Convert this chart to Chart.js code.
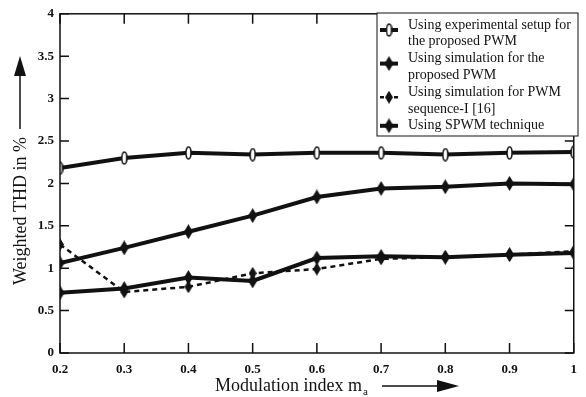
<!DOCTYPE html>
<html lang="en">
<head>
<meta charset="UTF-8">
<title>Weighted THD</title>
<script src="https://cdn.jsdelivr.net/npm/chart.js"></script>
<style>
  html, body { margin: 0; padding: 0; background: #fff; }
  #wrap { width: 586px; height: 397px; }
</style>
</head>
<body>
<div id="wrap"><canvas id="thdChart" width="586" height="397"></canvas></div>
<script>
// data
var modIndex = [0.2, 0.3, 0.4, 0.5, 0.6, 0.7, 0.8, 0.9, 1.0];
var expProposed = [2.18, 2.30, 2.36, 2.34, 2.36, 2.36, 2.34, 2.36, 2.37];
var simProposed = [1.06, 1.24, 1.43, 1.62, 1.84, 1.94, 1.96, 2.00, 1.99];
var simSeqI = [1.28, 0.72, 0.78, 0.94, 0.99, 1.11, 1.13, 1.16, 1.20];
var spwm = [0.71, 0.76, 0.89, 0.85, 1.12, 1.14, 1.13, 1.16, 1.18];
var seriesNames = [
    ['Using experimental setup for', 'the proposed PWM'],
    ['Using simulation for the', 'proposed PWM'],
    ['Using simulation for PWM', 'sequence-I [16]'],
    ['Using SPWM technique']
];
var yTicks = [0, 0.5, 1, 1.5, 2, 2.5, 3, 3.5, 4];

var serif = "'Liberation Serif', 'DejaVu Serif', serif";

// marker images
function diamond(w, h) {
    var c = document.createElement('canvas');
    c.width = w; c.height = h;
    var g = c.getContext('2d');
    g.fillStyle = '#111';
    g.beginPath();
    g.moveTo(w / 2, 0); g.lineTo(w, h / 2); g.lineTo(w / 2, h); g.lineTo(0, h / 2);
    g.closePath(); g.fill();
    return c;
}
function ring(w, h) {
    var c = document.createElement('canvas');
    c.width = w; c.height = h;
    var g = c.getContext('2d');
    g.fillStyle = '#fff';
    g.strokeStyle = '#111';
    g.lineWidth = 1.5;
    g.beginPath();
    g.ellipse(w / 2, h / 2, w / 2 - 1, h / 2 - 1, 0, 0, Math.PI * 2);
    g.fill(); g.stroke();
    return c;
}
var ringImg = ring(7, 14);
var diaImg = diamond(9, 15);
var diaSmall = diamond(8, 13);

function pts(arr) {
    return arr.map(function (v, i) { return { x: modIndex[i], y: v }; });
}

var styles = [
    { img: ringImg, dash: [], width: 4 },
    { img: diaImg, dash: [], width: 4 },
    { img: diaSmall, dash: [5, 4], width: 2.5 },
    { img: diaImg, dash: [], width: 4 }
];
var allSeries = [expProposed, simProposed, simSeqI, spwm];

var datasets = allSeries.map(function (s, i) {
    return {
        label: seriesNames[i].join(' '),
        data: pts(s),
        borderColor: '#111',
        borderWidth: styles[i].width,
        borderDash: styles[i].dash,
        pointStyle: styles[i].img,
        pointRadius: 6,
        tension: 0,
        fill: false
    };
});

// frame, inward ticks, axis titles, legend
var decor = {
    id: 'decor',
    afterDraw: function (chart) {
        var ctx = chart.ctx;
        var a = chart.chartArea;
        var xs = chart.scales.x, ys = chart.scales.y;
        ctx.save();
        ctx.strokeStyle = '#111';
        ctx.lineWidth = 1.5;
        ctx.strokeRect(a.left, a.top, a.right - a.left, a.bottom - a.top);

        // ticks pointing inward on all four sides
        ctx.beginPath();
        modIndex.forEach(function (v) {
            var px = xs.getPixelForValue(v);
            ctx.moveTo(px, a.bottom); ctx.lineTo(px, a.bottom - 10);
            ctx.moveTo(px, a.top); ctx.lineTo(px, a.top + 10);
        });
        yTicks.forEach(function (v) {
            var py = ys.getPixelForValue(v);
            ctx.moveTo(a.left, py); ctx.lineTo(a.left + 9, py);
            ctx.moveTo(a.right, py); ctx.lineTo(a.right - 9, py);
        });
        ctx.stroke();

        // x title with subscript and arrow
        ctx.fillStyle = '#111';
        ctx.font = '18px ' + serif;
        ctx.textBaseline = 'alphabetic';
        ctx.textAlign = 'left';
        var xt = 'Modulation index m';
        ctx.fillText(xt, 215, 391);
        var w = ctx.measureText(xt).width;
        ctx.font = '11px ' + serif;
        ctx.fillText('a', 215 + w + 1, 395);
        ctx.lineWidth = 1.5;
        ctx.beginPath(); ctx.moveTo(382, 386); ctx.lineTo(442, 386); ctx.stroke();
        ctx.beginPath(); ctx.moveTo(459, 386); ctx.lineTo(437, 380); ctx.lineTo(437, 392); ctx.closePath(); ctx.fill();

        // y title with arrow
        ctx.save();
        ctx.translate(26, 285);
        ctx.rotate(-Math.PI / 2);
        ctx.font = '18px ' + serif;
        var yt = 'Weighted THD in %';
        ctx.fillText(yt, 0, 0);
        var yw = ctx.measureText(yt).width;
        ctx.restore();
        var yEnd = 285 - yw - 8;
        ctx.beginPath(); ctx.moveTo(20, yEnd); ctx.lineTo(20, 72); ctx.stroke();
        ctx.beginPath(); ctx.moveTo(20, 56); ctx.lineTo(14, 76); ctx.lineTo(26, 76); ctx.closePath(); ctx.fill();

        // legend box
        var bx = 377, by = 13, bw = 201, bh = 123;
        ctx.fillStyle = '#fff';
        ctx.fillRect(bx, by, bw, bh);
        ctx.lineWidth = 1;
        ctx.strokeRect(bx, by, bw, bh);
        ctx.fillStyle = '#111';
        ctx.font = '14px ' + serif;
        ctx.textBaseline = 'middle';
        var row = 0;
        var lineH = 16.8;
        seriesNames.forEach(function (lines, i) {
            var ty = by + 12 + row * lineH;
            var my = ty + (lines.length > 1 ? 5 : 0);
            ctx.save();
            ctx.lineWidth = styles[i].width;
            ctx.setLineDash(styles[i].dash.length ? [4, 3] : []);
            ctx.beginPath(); ctx.moveTo(380, my); ctx.lineTo(398, my); ctx.stroke();
            ctx.restore();
            var img = styles[i].img;
            ctx.drawImage(img, 389 - img.width / 2, my - img.height / 2);
            lines.forEach(function (t, k) {
                ctx.fillText(t, 408, ty + k * lineH);
            });
            row += lines.length;
        });
        ctx.restore();
    }
};

new Chart(document.getElementById('thdChart'), {
    type: 'line',
    data: { datasets: datasets },
    options: {
        responsive: false,
        animation: false,
        events: [],
        layout: { padding: { top: 13, right: 3, left: 0, bottom: 0 } },
        plugins: { legend: { display: false }, tooltip: { enabled: false } },
        scales: {
            x: {
                type: 'linear',
                min: 0.2, max: 1,
                afterFit: function (s) { s.height = 44; },
                afterBuildTicks: function (s) { s.ticks = modIndex.map(function (v) { return { value: v }; }); },
                grid: { display: false, drawTicks: false },
                border: { display: false },
                ticks: {
                    padding: 9,
                    color: '#111',
                    font: { family: serif, size: 13, weight: 'bold' },
                    callback: function (v) { return v === 1 ? '1' : v.toFixed(1); }
                }
            },
            y: {
                min: 0, max: 4,
                afterFit: function (s) { s.width = 60; },
                afterBuildTicks: function (s) { s.ticks = yTicks.map(function (v) { return { value: v }; }); },
                grid: { display: false, drawTicks: false },
                border: { display: false },
                ticks: {
                    padding: 6,
                    color: '#111',
                    font: { family: serif, size: 13, weight: 'bold' },
                    callback: function (v) { return String(v); }
                }
            }
        }
    },
    plugins: [decor]
});
</script>
</body>
</html>
